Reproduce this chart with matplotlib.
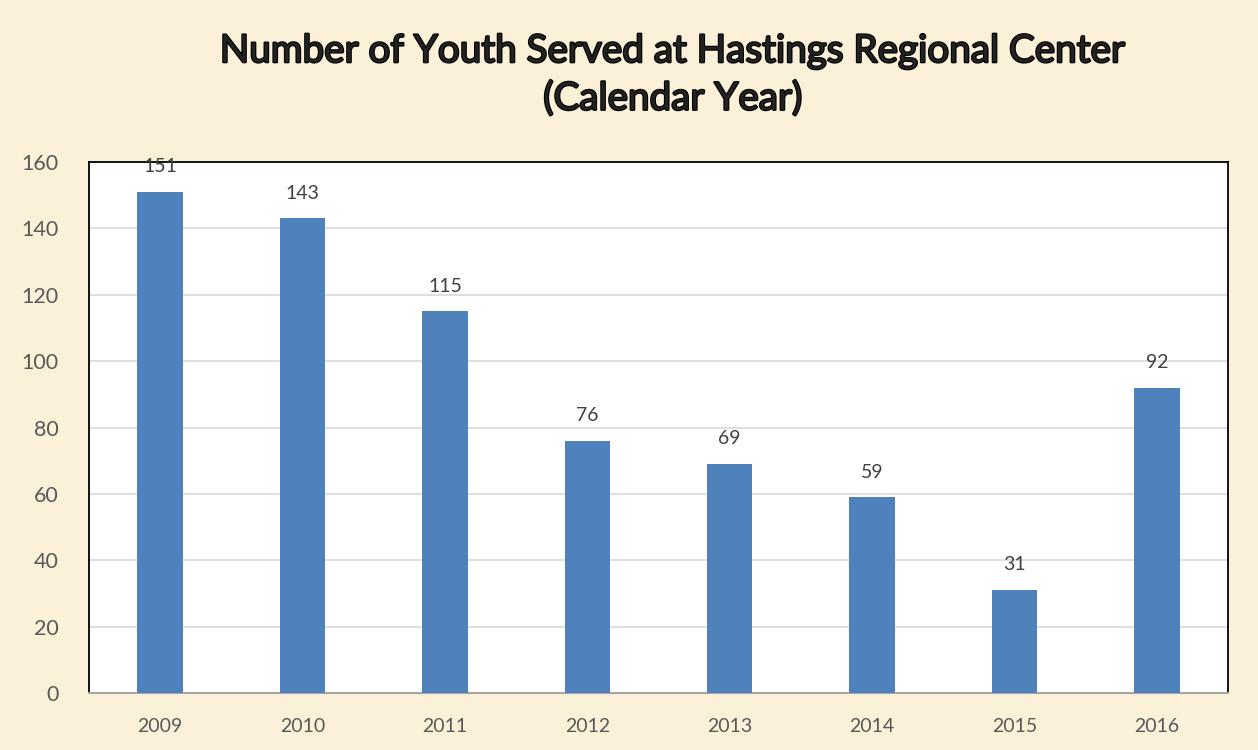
import matplotlib.pyplot as plt
import matplotlib.patheffects as pe

years = ["2009", "2010", "2011", "2012", "2013", "2014", "2015", "2016"]
youth_served = [151, 143, 115, 76, 69, 59, 31, 92]
y_ticks = [0, 20, 40, 60, 80, 100, 120, 140, 160]


def main():
    plt.rcParams["font.family"] = ["Lato", "DejaVu Sans"]
    fig = plt.figure(figsize=(12.58, 7.5), dpi=100, facecolor="#fbf0d8")
    ax = fig.add_axes([89 / 1258, 57 / 750, (1228 - 89) / 1258, (693 - 162) / 750])
    ax.set_facecolor("white")

    x = range(len(years))
    bars = ax.bar(x, youth_served, width=0.32, color="#4f81bd", zorder=3)
    for bar, v in zip(bars, youth_served):
        ax.annotate(str(v), (bar.get_x() + bar.get_width() / 2, v),
                    xytext=(0, 12), textcoords="offset points",
                    ha="center", va="bottom", fontsize=14, color="#404040")

    ax.set_xlim(-0.5, len(years) - 0.5)
    ax.set_ylim(0, 160)
    ax.set_yticks(y_ticks)
    ax.set_xticks(list(x))
    ax.set_xticklabels(years)
    ax.tick_params(axis="y", length=0, labelsize=15.5, labelcolor="#595959", pad=22)
    ax.tick_params(axis="x", length=0, labelsize=14, labelcolor="#595959", pad=18)
    ax.yaxis.grid(True, color="#d9d9d9", linewidth=1.2, zorder=0)

    for side in ("left", "top", "right"):
        ax.spines[side].set_color("black")
        ax.spines[side].set_linewidth(1.3)
    ax.spines["bottom"].set_color("#a6a6a6")
    ax.spines["bottom"].set_linewidth(1.5)

    fig.text(0.535, 0.9, "Number of Youth Served at Hastings Regional Center\n(Calendar Year)",
             ha="center", va="center", fontsize=27.8, color="#222222",
             linespacing=1.4,
             path_effects=[pe.withStroke(linewidth=1.6, foreground="#000000")])

    fig.savefig("out.png", dpi=100, facecolor=fig.get_facecolor())


if __name__ == "__main__":
    main()
